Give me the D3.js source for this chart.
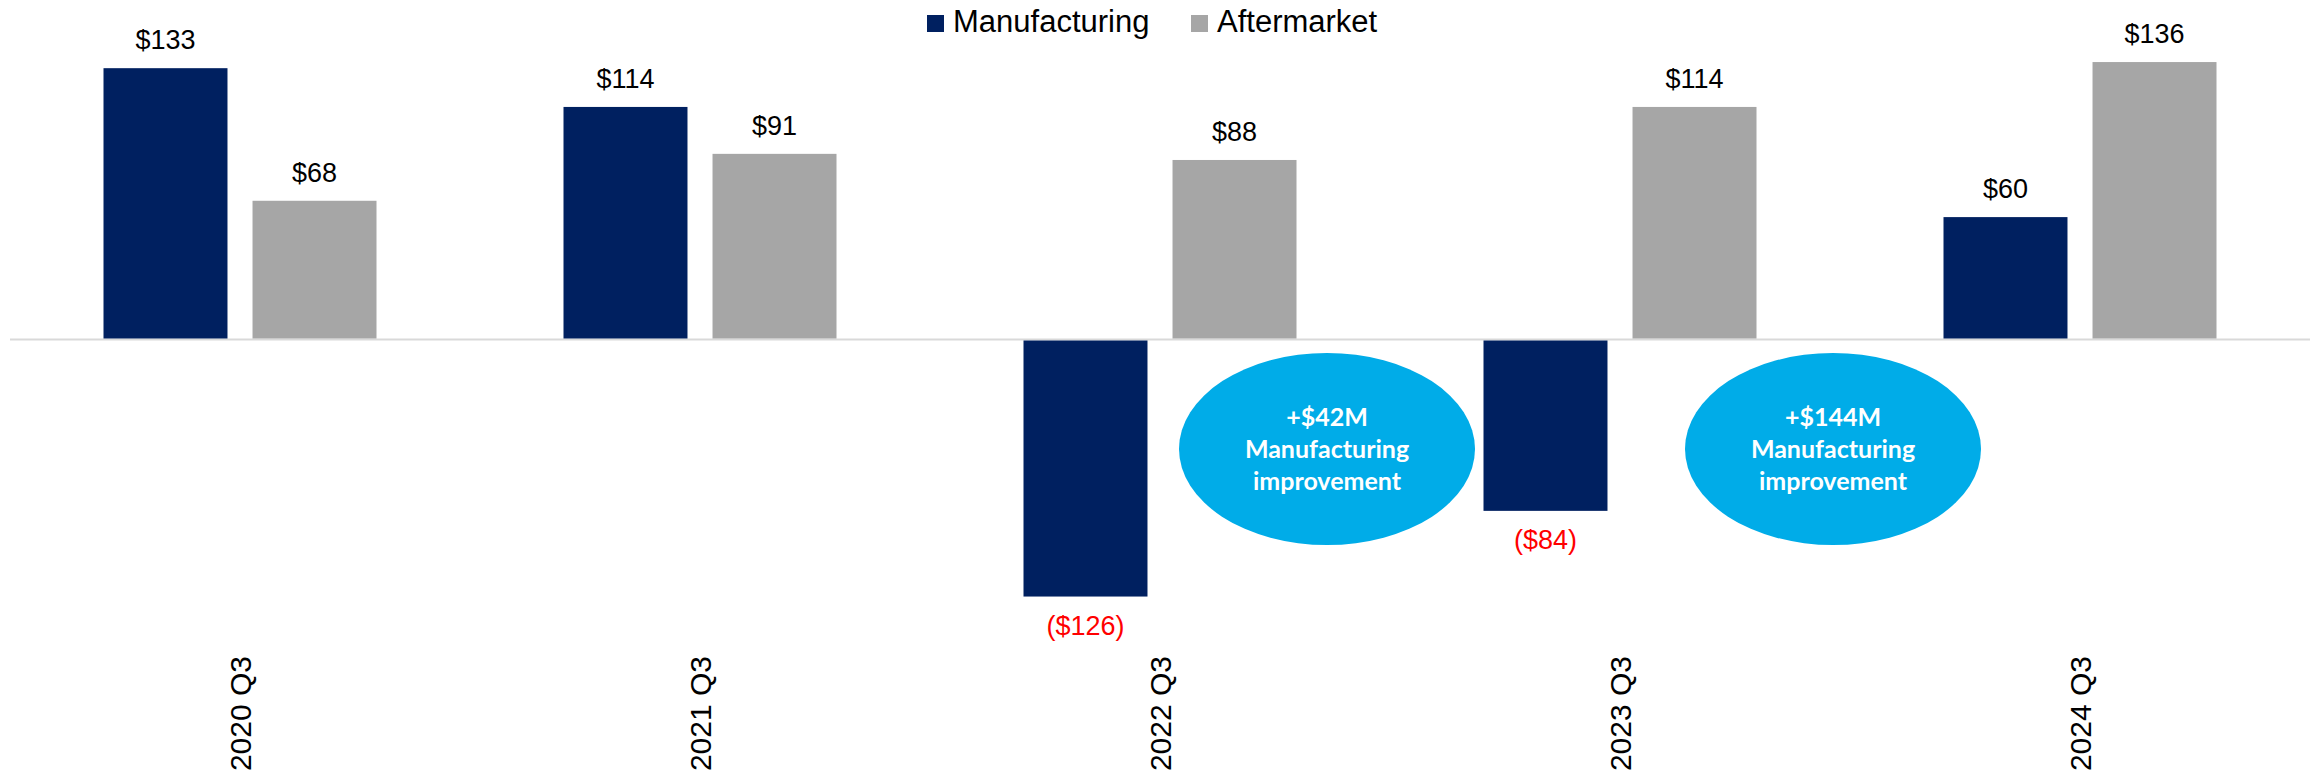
<!DOCTYPE html>
<html>
<head>
<meta charset="utf-8">
<script src="https://cdn.jsdelivr.net/npm/d3@7"></script>
<style>
  html, body { margin: 0; padding: 0; background: #ffffff; }
  svg { display: block; }
</style>
</head>
<body>
<div id="chart"></div>
<script>
// ---- Data ----
const categories = ["2020 Q3", "2021 Q3", "2022 Q3", "2023 Q3", "2024 Q3"];
const seriesNames = ["Manufacturing", "Aftermarket"];
const manufacturing = [133, 114, -126, -84, 60];
const aftermarket = [68, 91, 88, 114, 136];
const valueLabels = {
  Manufacturing: ["$133", "$114", "($126)", "($84)", "$60"],
  Aftermarket: ["$68", "$91", "$88", "$114", "$136"]
};
const callouts = [
  { after: "2022 Q3", lines: ["+$42M", "Manufacturing", "improvement"] },
  { after: "2023 Q3", lines: ["+$144M", "Manufacturing", "improvement"] }
];

// ---- Layout ----
const W = 2324, H = 776;
const colors = { Manufacturing: "#002060", Aftermarket: "#A6A6A6" };

const svg = d3.select("#chart").append("svg")
  .attr("width", W).attr("height", H)
  .attr("font-family", "Liberation Sans, Arial, sans-serif");

const x0 = d3.scaleBand().domain(categories).range([10, 2310]).paddingInner(0).paddingOuter(0);
const x1 = d3.scaleBand().domain(seriesNames).range([-136.5, 136.5]).paddingInner(0.168);
const y = d3.scaleLinear().domain([-150, 150]).range([645.5, 33.5]);

const rows = categories.map((c, i) => ({
  cat: c,
  values: [
    { s: "Manufacturing", v: manufacturing[i], label: valueLabels.Manufacturing[i] },
    { s: "Aftermarket", v: aftermarket[i], label: valueLabels.Aftermarket[i] }
  ]
}));

// zero line
svg.append("line")
  .attr("x1", x0.range()[0]).attr("x2", x0.range()[1])
  .attr("y1", y(0)).attr("y2", y(0))
  .attr("stroke", "#D9D9D9").attr("stroke-width", 2);

const groups = svg.selectAll("g.cat").data(rows).enter().append("g")
  .attr("class", "cat")
  .attr("transform", d => `translate(${x0(d.cat) + x0.bandwidth() / 2},0)`);

groups.selectAll("rect").data(d => d.values).enter().append("rect")
  .attr("x", d => x1(d.s))
  .attr("width", x1.bandwidth())
  .attr("y", d => d.v >= 0 ? y(d.v) : y(0) + 1)
  .attr("height", d => d.v >= 0 ? y(0) - 1 - y(d.v) : y(d.v) - y(0) - 1)
  .attr("fill", d => colors[d.s]);

groups.selectAll("text.val").data(d => d.values).enter().append("text")
  .attr("class", "val")
  .attr("x", d => x1(d.s) + x1.bandwidth() / 2)
  .attr("y", d => d.v >= 0 ? y(d.v) - 19 : y(d.v) + 38)
  .attr("text-anchor", "middle")
  .attr("font-size", 27)
  .attr("fill", d => d.v >= 0 ? "#000000" : "#FF0000")
  .text(d => d.label);

// category labels (rotated)
svg.selectAll("text.cat").data(categories).enter().append("text")
  .attr("class", "cat")
  .attr("transform", d => `translate(${x0(d) + x0.bandwidth() / 2 + 11},656) rotate(-90)`)
  .attr("text-anchor", "end")
  .attr("font-size", 30)
  .attr("fill", "#000000")
  .text(d => d);

// callout ellipses
const calloutOffsets = [167, 213];
callouts.forEach((c, i) => {
  const cx = x0(c.after) + x0.bandwidth() / 2 + calloutOffsets[i];
  const cy = 449;
  const g = svg.append("g");
  g.append("ellipse")
    .attr("cx", cx).attr("cy", cy).attr("rx", 148).attr("ry", 96)
    .attr("fill", "#00ACE8");
  g.selectAll("text").data(c.lines).enter().append("text")
    .attr("x", cx)
    .attr("y", (d, j) => 426 + j * 32)
    .attr("text-anchor", "middle")
    .attr("font-family", "Lato, 'Open Sans', sans-serif")
    .attr("font-weight", "bold")
    .attr("font-size", 25)
    .attr("fill", "#ffffff")
    .text(d => d);
});

// legend
const legend = svg.append("g");
const legendItems = [
  { s: "Manufacturing", x: 927 },
  { s: "Aftermarket", x: 1191 }
];
legendItems.forEach(it => {
  legend.append("rect").attr("x", it.x).attr("y", 15).attr("width", 17).attr("height", 17)
    .attr("fill", colors[it.s]);
  legend.append("text").attr("x", it.x + 26).attr("y", 32)
    .attr("font-size", 31).attr("fill", "#000000").text(it.s);
});
</script>
</body>
</html>
